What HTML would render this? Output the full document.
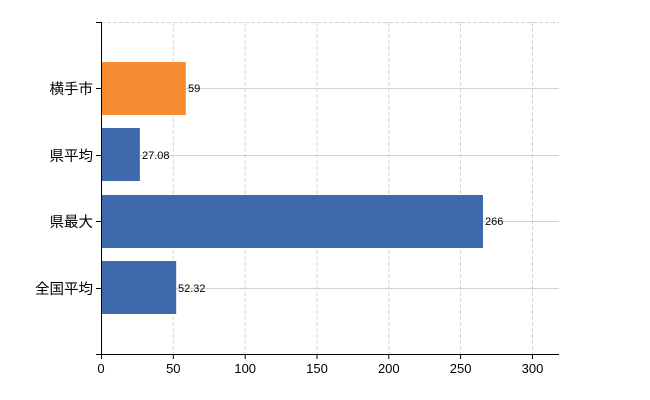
<!DOCTYPE html>
<html><head><meta charset="utf-8"><style>body{margin:0;background:#fff}svg{display:block}text{font-family:"Liberation Sans","Noto Sans CJK JP",sans-serif}</style></head><body>
<svg width="650" height="400" xmlns="http://www.w3.org/2000/svg">
<g stroke="#d4d4d4" stroke-dasharray="4,2" stroke-width="1">
<line x1="101" y1="22.5" x2="559" y2="22.5"/>
<line x1="173.3" y1="22" x2="173.3" y2="354"/>
<line x1="245.2" y1="22" x2="245.2" y2="354"/>
<line x1="317" y1="22" x2="317" y2="354"/>
<line x1="388.8" y1="22" x2="388.8" y2="354"/>
<line x1="460.6" y1="22" x2="460.6" y2="354"/>
<line x1="532.5" y1="22" x2="532.5" y2="354"/>
</g>
<g stroke="#d0d4d0" stroke-width="1">
<line x1="101" y1="88.5" x2="559" y2="88.5"/>
<line x1="101" y1="155.5" x2="559" y2="155.5"/>
<line x1="101" y1="221.5" x2="559" y2="221.5"/>
<line x1="101" y1="288.5" x2="559" y2="288.5"/>
</g>
<rect x="101" y="62" width="84.8" height="53" fill="#f58b33"/>
<rect x="101" y="128" width="38.9" height="53" fill="#3d6aad"/>
<rect x="101" y="195" width="382" height="53" fill="#3d6aad"/>
<rect x="101" y="261" width="75.2" height="53" fill="#3d6aad"/>
<g font-size="11" fill="#000">
<text x="188" y="92">59</text>
<text x="142" y="159">27.08</text>
<text x="485" y="225">266</text>
<text x="178" y="292">52.32</text>
</g>
<g stroke="#000" stroke-width="1">
<line x1="101.5" y1="22" x2="101.5" y2="354"/>
<line x1="96" y1="22.5" x2="101" y2="22.5"/>
<line x1="96" y1="88.5" x2="101" y2="88.5"/>
<line x1="96" y1="155.5" x2="101" y2="155.5"/>
<line x1="96" y1="221.5" x2="101" y2="221.5"/>
<line x1="96" y1="288.5" x2="101" y2="288.5"/>
<line x1="96" y1="354.5" x2="559" y2="354.5"/>
<line x1="101.5" y1="354" x2="101.5" y2="359"/>
<line x1="173.3" y1="354" x2="173.3" y2="359"/>
<line x1="245.2" y1="354" x2="245.2" y2="359"/>
<line x1="317" y1="354" x2="317" y2="359"/>
<line x1="388.8" y1="354" x2="388.8" y2="359"/>
<line x1="460.6" y1="354" x2="460.6" y2="359"/>
<line x1="532.5" y1="354" x2="532.5" y2="359"/>
</g>
<g font-size="14.5" fill="#000" text-anchor="end">
<text x="93" y="94">横手市</text>
<text x="93" y="161">県平均</text>
<text x="93" y="227">県最大</text>
<text x="93" y="294">全国平均</text>
</g>
<g font-size="13" fill="#000" text-anchor="middle">
<text x="101" y="373">0</text>
<text x="173.3" y="373">50</text>
<text x="245.2" y="373">100</text>
<text x="317" y="373">150</text>
<text x="388.8" y="373">200</text>
<text x="460.6" y="373">250</text>
<text x="532.5" y="373">300</text>
</g>
</svg>
</body></html>
